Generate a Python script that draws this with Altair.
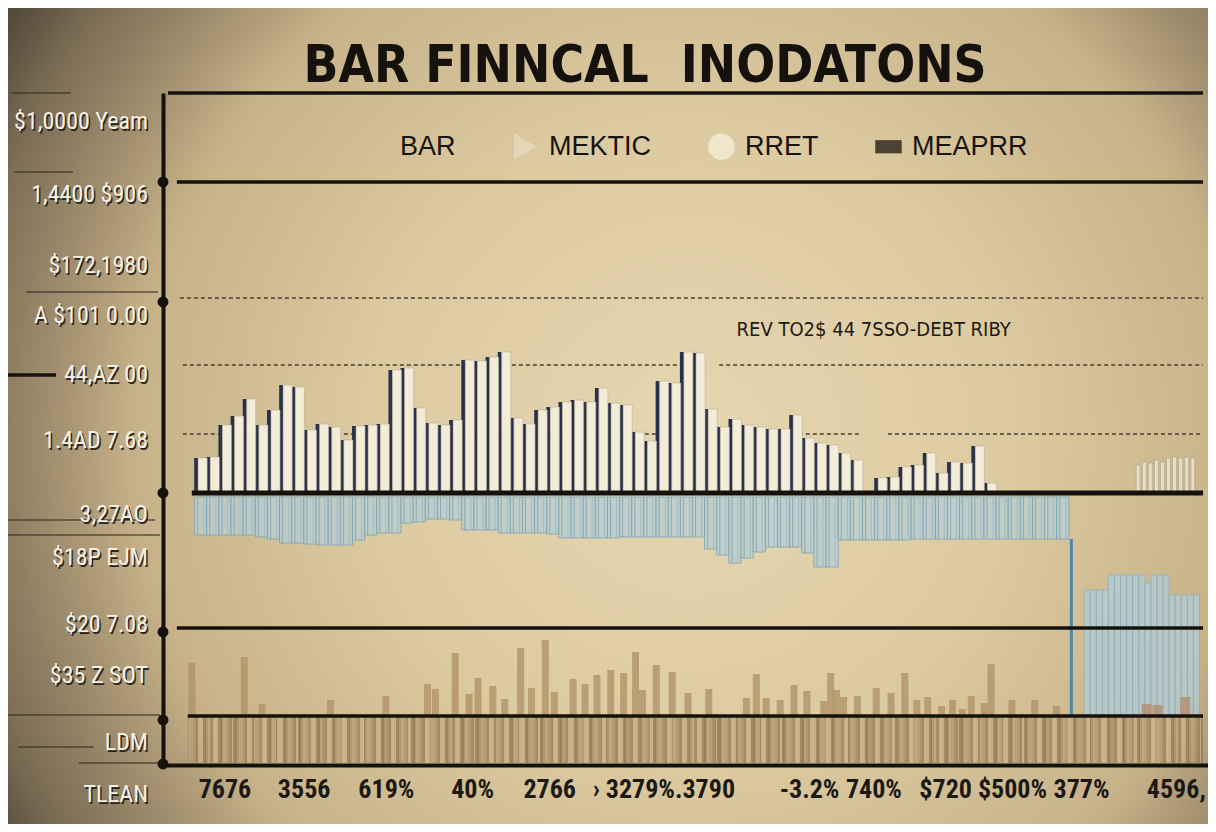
import altair as alt
import pandas as pd

# ------------------------------------------------------------------ data
TITLE = "BAR FINNCAL\u00a0 INODATONS"
legend_labels = ["BAR", "MEKTIC", "RRET", "MEAPRR"]

y_tick_labels = ["$1,0000 Yeam", "1,4400 $906", "$172,1980", "A  $101 0.00", "44,AZ 00",
                 "1.4AD 7.68", "3,27AO", "$18P EJM", "$20 7.08", "$35 Z SOT", "LDM", "TLEAN"]
y_tick_values = [92.75, 74.5, 56.75, 44.25, 29.5, 13, -5.5, -16.25, -33, -45.75, -62.5, -75.5]

x_tick_labels = ["7676", "3556", "619%", "40%", "2766", "\u203a 3279%.3790", "-3.2%", "740%",
                 "$720 $500%", "377%", "4596,"]
x_tick_values = [1.96, 8.48, 15.25, 22.35, 28.7, 38.1, 50.1, 55.4, 64.4, 72.5, 80.3]

note_text = ["REV TO2$ 44 7SSO-DEBT RIBY"]
note_x = [44.13]
note_y = [40.75]

# upper paired bars (one value per category)
upper_vals = [8.75, 9, 17, 19.25, 23.5, 17, 20.75, 27, 26.5, 15.75, 17.25, 16.5, 13.25, 16.75,
              17, 17.25, 30.75, 31.25, 21.25, 17.5, 17, 18.25, 33.25, 33, 34, 35.25, 18.75,
              17.25, 20.75, 21.5, 22.75, 23.25, 22.75, 26.25, 22.5, 22, 15.25, 13, 28, 27.5,
              35.25, 35, 21, 16.5, 18.5, 17, 16.5, 16, 16, 19.5, 13.75, 12.5, 12, 10, 8.25, 0,
              3.75, 4, 6.5, 7, 10, 5, 7.75, 7.5, 11.75, 2.5]
# faint thin bars at the far right
upper_right_vals = [7, 7.75, 7.5, 8.25, 7.75, 8.75, 9, 8.75, 9, 8.75]
upper_right_start = 77.2

# lower (negative) bars
lower_vals = [-10.5, -10.5, -10.5, -10.5, -10.5, -11, -11.5, -12.5, -12.5, -12.75, -13, -13,
              -13, -11.75, -10.5, -10, -10, -7.5, -7.25, -6.5, -6.5, -6.75, -9.25, -9.25, -9.25,
              -10, -10, -10, -10, -10.25, -11.25, -11.25, -11.25, -11.25, -11.25, -11, -11, -11,
              -11, -11, -11, -11, -14, -15.5, -17.5, -16.25, -14.75, -13.5, -13.5, -13.5, -15,
              -18.5, -18.5, -11.75, -11.75, -11.75, -11.75, -11.75, -11.75, -11.5, -11.5, -11.5,
              -11.5, -11.5, -11.5, -11.5, -11.5, -11.5, -11.5, -11.5, -11.5, -11.5]
lower_base = -1

# dropped segment on the right
drop_vals = [-24.25, -24.25, -24.25, -24.25, -20.5, -20.5, -20.5, -20.5, -20.5, -20.5, -22.5,
             -20.5, -20.5, -20.5, -25.5, -25.5, -25.5, -25.5, -25.5]
drop_start = 73
drop_bottom = -55.75
drop_link_x = [71.7]
drop_link_top = [-11.5]

# skyline bars
sky_x = [-0.73, 3.59, 5.06, 10.69, 15.25, 18.68, 19.33, 20.96, 22.1, 22.84, 24.06, 25.04, 26.35,
         27.24, 28.38, 29.12, 30.67, 31.65, 32.63, 33.77, 34.83, 35.81, 36.38, 37.52, 38.83,
         40.13, 41.84, 44.94, 45.76, 46.57, 47.72, 48.86, 49.92, 51.31, 51.88, 52.37, 52.94,
         54.08, 55.63, 56.85, 57.99, 58.97, 59.87, 61.01, 61.91, 62.72, 63.46, 64.52, 65.09,
         66.8, 68.68, 70.47, 77.9, 78.79, 81.08]
sky_top = [-42.5, -41, -52.75, -51.75, -50.75, -47.75, -49, -40, -50.25, -46.25, -48.25, -51.5,
           -38.75, -48.75, -36.75, -49.75, -46.5, -47.75, -45.5, -44.25, -45, -39.75, -49.25,
           -43, -44.75, -50, -49, -51.25, -45.25, -51.25, -51.75, -48, -49.5, -52, -45, -49.25,
           -51, -50.75, -48.75, -50, -45, -51.75, -51, -53.25, -51.75, -54, -50.75, -52.5,
           -42.75, -51.75, -51.75, -53.25, -52.75, -53, -51]
sky_tone = ["a"] * 52 + ["b"] * 3

# reference lines
solid_y = [100, 77.75, -33.75, -55.75]
solid_x1 = [-2.69, -1.96, -1.96, -1.06]
base_y = [0]
base_x1 = [-0.73]
dash_y = [48.75, 32, 32, 14.75, 14.75]
dash_x1 = [-1.71, -1.47, 42.7, -1.47, 56.6]
dash_x2 = [82.54, 41.1, 82.54, 54.2, 82.54]
axis_dots = [77.75, 47.75, 0, -34.75, -56.75, -67.75]
margin_y = [100, 80.25, 50.25, -6.75, -10.5, -55.5, -63.5, -67.5]
margin_x1 = [-15.58, -15.33, -14.36, -15.99, -15.99, -15.99, -15.0, -10.03]
margin_x2 = [-10.69, -10.52, -3.51, -3.75, -3.34, -3.34, -8.81, -3.34]
margin_thick_y = [29.5]
margin_thick_x1 = [-15.99]
margin_thick_x2 = [-11.91]
band_top, band_bottom = -55.75, -67.5
band_x1 = [-1.06]

# ------------------------------------------------------------------ setup
W, H = 1045, 672
X_MAX = 82.54
COND = "DejaVu Sans Condensed, DejaVu Sans, sans-serif"
NARROW = ("Noto Sans ExtraCondensed, Roboto Condensed, Noto Sans Condensed, "
          "DejaVu Sans Condensed, sans-serif")
INK = "#15120e"

xs = alt.Scale(domain=[-2.69, X_MAX], nice=False, zero=False)
ys = alt.Scale(domain=[-68, 100], nice=False, zero=False)

x_axis = alt.Axis(
    values=x_tick_values,
    labelExpr=("[" + ",".join("'" + s + "'" for s in x_tick_labels) + "][indexof(["
               + ",".join(str(v) for v in x_tick_values) + "], datum.value)]"),
    domain=True, domainColor=INK, domainWidth=4, ticks=False, grid=False,
    labelFont=NARROW, labelFontWeight="bold", labelFontSize=26, labelColor="#1c1812",
    labelPadding=11, labelFlush=False, labelOverlap=False, title=None, zindex=1)
y_axis = alt.Axis(labels=False, ticks=False, grid=False, domain=True, domainColor=INK,
                  domainWidth=4, title=None, zindex=1)


def X(f):
    return alt.X(f, type="quantitative", scale=xs, axis=x_axis)


def Y(f):
    return alt.Y(f, type="quantitative", scale=ys, axis=y_axis)


one = pd.DataFrame({"k": [0]})

# background vignette
bg = alt.Chart(one).mark_rect(
    color=alt.RadialGradient(
        gradient="radial", x1=0.56, y1=0.52, r1=0, x2=0.56, y2=0.52, r2=0.74,
        stops=[alt.GradientStop(offset=0, color="#e6d7b2"),
               alt.GradientStop(offset=0.35, color="#dccaa1"),
               alt.GradientStop(offset=0.6, color="#c8b38a"),
               alt.GradientStop(offset=0.8, color="#9c8a6b"),
               alt.GradientStop(offset=1, color="#4a4238")])
).encode(x=alt.value(-160), x2=alt.value(W + 20), y=alt.value(-90), y2=alt.value(H + 70))

# dashed lines
dash_df = pd.DataFrame({"y": dash_y, "x1": dash_x1, "x2": dash_x2})
dashes = alt.Chart(dash_df).mark_rule(color="#4a3f30", strokeWidth=1.3, strokeDash=[4, 3]).encode(
    x=X("x1"), x2="x2", y=Y("y"))

# margin thin lines
mar_df = pd.DataFrame({"y": margin_y, "x1": margin_x1, "x2": margin_x2})
margins = alt.Chart(mar_df).mark_rule(color="#3a3126", strokeWidth=1.3, opacity=0.75).encode(
    x=X("x1"), x2="x2", y=Y("y"))
mar2_df = pd.DataFrame({"y": margin_thick_y, "x1": margin_thick_x1, "x2": margin_thick_x2})
margins2 = alt.Chart(mar2_df).mark_rule(color="#15120e", strokeWidth=3.5).encode(
    x=X("x1"), x2="x2", y=Y("y"))

# lower negative bars
low_df = pd.DataFrame({"i": list(range(len(lower_vals))), "v": lower_vals})
low = alt.Chart(low_df).mark_bar(size=12.3, color="#b9ced1", opacity=0.8, stroke="#7aa3b5",
                                  strokeWidth=1).encode(
    x=X("i"), y=Y("v"), y2=alt.datum(lower_base))
low_lines = alt.Chart(low_df).mark_rule(color="#86abba", strokeWidth=1, xOffset=-3).encode(
    x=X("i"), y=Y("v"), y2=alt.datum(lower_base))
low_lines2 = alt.Chart(low_df).mark_rule(color="#9dbcc7", strokeWidth=1, xOffset=3).encode(
    x=X("i"), y=Y("v"), y2=alt.datum(lower_base))

# dropped right segment
drop_df = pd.DataFrame({"k": list(range(len(drop_vals))), "v": drop_vals})
drop = alt.Chart(drop_df).transform_calculate(pos=f"{drop_start} + 0.5 * datum.k").mark_bar(
    size=6, color="#b5ccd2", opacity=0.8, stroke="#8db2c2", strokeWidth=1).encode(
    x=X("pos"), y=Y("v"), y2=alt.datum(drop_bottom))
link_df = pd.DataFrame({"x": drop_link_x, "top": drop_link_top})
link = alt.Chart(link_df).mark_rule(color="#4d88a6", strokeWidth=3).encode(
    x=X("x"), y=Y("top"), y2=alt.datum(drop_bottom))

# skyline
sky_df = pd.DataFrame({"x": sky_x, "v": sky_top, "tone": sky_tone})
sky_a = alt.Chart(sky_df).transform_filter("datum.tone == 'a'").mark_bar(
    size=7, opacity=0.8, color="#b09468").encode(
    x=X("x"), y=Y("v"), y2=alt.datum(drop_bottom))
sky_b = alt.Chart(sky_df).transform_filter("datum.tone == 'b'").mark_bar(
    size=10, opacity=0.75, color="#b5896a").encode(
    x=X("x"), y=Y("v"), y2=alt.datum(drop_bottom))

# striped band at the bottom
band_cols = ["#b09870", "#c4ae86", "#a38b66", "#baa37b", "#99815f", "#cab58e", "#ab926c",
             "#bea880", "#a28a64", "#c7b189", "#b59d75"]
stops = []
n_str = 600
for k in range(n_str):
    c = band_cols[(k * 7 + (k // 13) * 3) % len(band_cols)]
    stops.append(alt.GradientStop(offset=k / n_str, color=c))
    stops.append(alt.GradientStop(offset=(k + 0.999) / n_str, color=c))
band_df = pd.DataFrame({"x1": band_x1, "x2": [X_MAX], "t": [band_top], "b": [band_bottom]})
band = alt.Chart(band_df).mark_rect(
    color=alt.LinearGradient(gradient="linear", x1=0, y1=0, x2=1, y2=0, stops=stops)).encode(
    x=X("x1"), x2="x2", y=Y("t"), y2="b")

# upper paired bars
up_df = pd.DataFrame({"i": list(range(len(upper_vals))), "v": upper_vals})
up_dark = alt.Chart(up_df).mark_bar(size=4, xOffset=-4.5, color="#28314b").encode(
    x=X("i"), y=Y("v"), y2=alt.datum(0))
up_cream = alt.Chart(up_df).mark_bar(size=9, xOffset=2, color="#f3ecd9", stroke="#b8ae97",
                                      strokeWidth=0.6).encode(
    x=X("i"), y=Y("v"), y2=alt.datum(0))
upr_df = pd.DataFrame({"k": list(range(len(upper_right_vals))), "v": upper_right_vals})
up_right = alt.Chart(upr_df).transform_calculate(pos=f"{upper_right_start} + 0.5 * datum.k").mark_bar(
    size=4, color="#ece3cb", stroke="#b3a98f", strokeWidth=0.8, opacity=0.9).encode(
    x=X("pos"), y=Y("v"), y2=alt.datum(0))

# solid black lines
sol_df = pd.DataFrame({"y": solid_y, "x1": solid_x1, "x2": [X_MAX] * len(solid_y)})
solid = alt.Chart(sol_df).mark_rule(color=INK, strokeWidth=3.5).encode(
    x=X("x1"), x2="x2", y=Y("y"))
base_df = pd.DataFrame({"y": base_y, "x1": base_x1, "x2": [X_MAX]})
base = alt.Chart(base_df).mark_rule(color=INK, strokeWidth=5).encode(
    x=X("x1"), x2="x2", y=Y("y"))

dots_df = pd.DataFrame({"y": axis_dots})
dots = alt.Chart(dots_df).mark_circle(size=120, color=INK, opacity=1).encode(
    x=alt.value(0), y=Y("y"))

# overlay vignette on the content
over = alt.Chart(one).mark_rect(
    color=alt.RadialGradient(
        gradient="radial", x1=0.56, y1=0.52, r1=0, x2=0.56, y2=0.52, r2=0.74,
        stops=[alt.GradientStop(offset=0, color="rgba(40,34,26,0)"),
               alt.GradientStop(offset=0.62, color="rgba(40,34,26,0)"),
               alt.GradientStop(offset=0.82, color="rgba(40,34,26,0.28)"),
               alt.GradientStop(offset=1, color="rgba(30,26,20,0.7)")])
).encode(x=alt.value(-160), x2=alt.value(W + 20), y=alt.value(-90), y2=alt.value(H + 70))

# y labels (white with shadow)
yl_df = pd.DataFrame({"t": y_tick_labels, "v": y_tick_values})
yl_shadow = alt.Chart(yl_df).mark_text(align="right", baseline="middle", dx=-13.5, dy=1.6,
                                        font=NARROW, fontSize=24, color="#2e271e").encode(
    x=alt.value(0), y=Y("v"), text="t:N")
yl_text = alt.Chart(yl_df).mark_text(align="right", baseline="middle", dx=-15,
                                      font=NARROW, fontSize=24, color="#f6f1e6").encode(
    x=alt.value(0), y=Y("v"), text="t:N")

# annotation
note_df = pd.DataFrame({"t": note_text, "x": note_x, "y": note_y})
note = alt.Chart(note_df).mark_text(align="left", baseline="middle", font=COND, fontSize=20,
                                     color="#1c1812").encode(
    x=X("x"), y=Y("y"), text="t:N")

# chart title (drawn as text so the full-bleed background does not push it away)
title_df = pd.DataFrame({"t": [TITLE]})
title = alt.Chart(title_df).mark_text(align="center", baseline="alphabetic", font=COND,
                                       fontSize=51, fontWeight="bold", color=INK).encode(
    x=alt.value(482), y=alt.value(-11), text="t:N")

# legend carrier
leg_params = dict(orient="none", legendX=200, legendY=40, direction="horizontal", columns=4,
                  title=None, labelFont="Liberation Sans, Arial, sans-serif", labelFontSize=27,
                  labelColor="#17140f", symbolSize=700, labelOffset=10, columnPadding=56,
                  symbolOpacity=1, symbolStrokeWidth=0, zindex=1)
leg_df = pd.DataFrame({"s": legend_labels})
leg = alt.Chart(leg_df).mark_point(filled=True, opacity=0, size=0).encode(
    x=alt.value(0), y=alt.value(0),
    color=alt.Color("s:N", sort=legend_labels,
                    scale=alt.Scale(domain=legend_labels,
                                    range=["rgba(0,0,0,0)", "#e3d7b8", "#efe6cc", "#4b4235"]),
                    legend=alt.Legend(**leg_params)),
    shape=alt.Shape("s:N", sort=legend_labels,
                    scale=alt.Scale(domain=legend_labels,
                                    range=["circle", "triangle-right", "circle",
                                           "M-1,-0.5H1V0.5H-1Z"]),
                    legend=alt.Legend(**leg_params)))

chart = alt.layer(
    bg, dashes, margins, margins2, low, low_lines, low_lines2, drop, link, sky_a, sky_b, band,
    up_dark, up_cream, up_right, solid, base, dots, over, yl_shadow, yl_text, note, title, leg
).properties(
    width=W, height=H,
    padding={"left": 155, "top": 85, "right": 0, "bottom": 59},
    autosize=alt.AutoSizeParams(type="none"),
).configure(background="#4f473b").configure_view(stroke=None)

chart.save("out.html", embed_options={"renderer": "svg", "actions": False})
